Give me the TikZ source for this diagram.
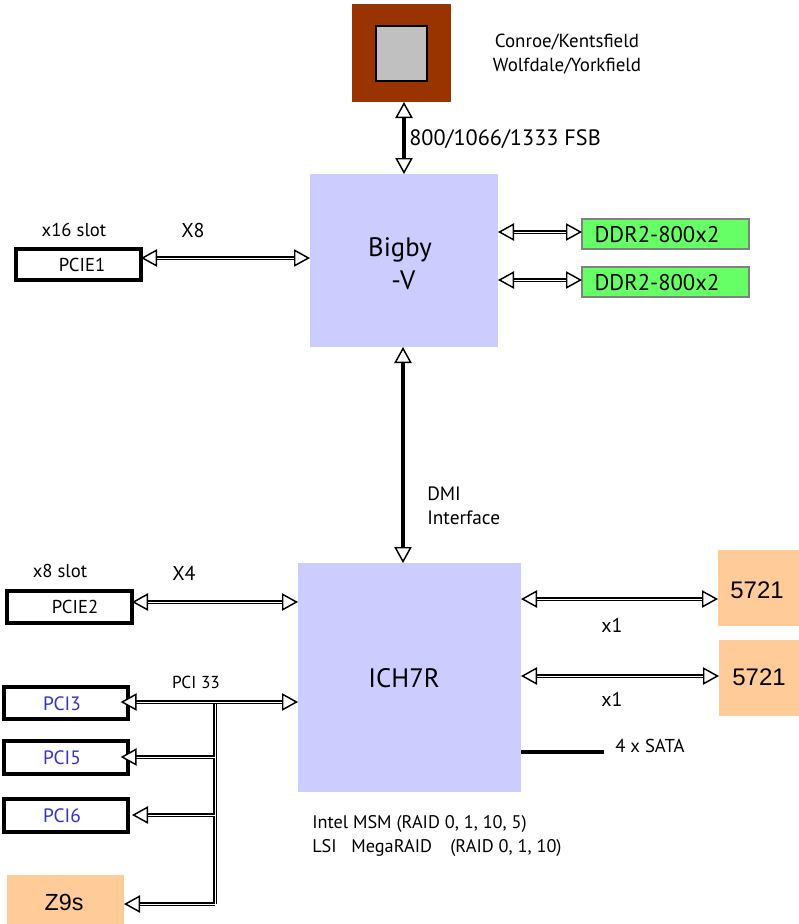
\documentclass[tikz,border=0pt]{standalone}
\usepackage{fontspec}
\setmainfont{PT Sans}
\newfontfamily\arialf{Liberation Sans}
\usetikzlibrary{arrows.meta,fit}
\definecolor{cpubrown}{RGB}{153,51,0}
\definecolor{chipgrey}{RGB}{192,192,192}
\definecolor{lav}{RGB}{204,204,255}
\definecolor{ddrgreen}{RGB}{102,255,102}
\definecolor{peach}{RGB}{255,204,153}
\definecolor{pciblue}{RGB}{51,51,204}
\newcommand{\fs}[2]{\fontsize{#1}{#2}\selectfont}
\tikzset{
  tip/.tip={Triangle[open,fill=white,length=12pt,width=13pt,line width=1.1pt]},
  bus/.style={double=white,double distance=0.6pt,line width=1.3pt,draw=black},
  biarrow/.style={bus,{tip}-{tip}},
  vbiarrow/.style={line width=3pt,draw=black,{tip}-{tip}},
  leftarrow/.style={bus,{tip}-},
  fitbox/.style={inner sep=0pt,outer sep=0pt},
  chip/.style={fitbox,fill=lav},
  slot/.style={fitbox,draw=black,line width=3pt,fill=white},
  ddr/.style={fitbox,draw=gray,line width=0.8pt,fill=ddrgreen},
  peachbox/.style={fitbox,fill=peach},
  lbl/.style={inner sep=0pt,text=black},
}
\begin{document}
\begin{tikzpicture}[x=0.75pt,y=-0.75pt]
\useasboundingbox (0,0) rectangle (799,924);
% CPU
\node[fitbox,fill=cpubrown,fit={(352,4)(451,102)}] (cpu) {};
\node[fitbox,fill=chipgrey,draw=black,line width=0.8pt,fit={(376,26)(427,81)}] (die) {};
\node[lbl,align=center,font=\fs{14.2pt}{18pt}] (cpulbl) at (567,54) {Conroe/Kentsfield\\Wolfdale/Yorkfield};
% Bigby
\node[chip,fit={(310,174)(498,347)}] (mch) {};
\node[lbl,font=\fs{20pt}{24.75pt},align=center] (mchlbl) at (400,264) {Bigby\\\hspace*{5pt}-V};
\draw[vbiarrow] (cpu.south -| 404,0) -- (mch.north -| 404,0);
\node[lbl,anchor=west,font=\fs{16.7pt}{20pt}] (fsblbl) at (409,139) {800/1066/1333 FSB};
% PCIE1
\node[slot,fit={(16,249)(141,280)}] (pcie1) {};
\node[lbl,font=\fs{14pt}{16pt}] (pcie1lbl) at (82,265) {PCIE1};
\node[lbl,font=\fs{14pt}{17pt}] (x16) at (74,230) {x16 slot};
\node[lbl,font=\fs{15pt}{18pt}] (x8) at (193,230) {X8};
\draw[biarrow] (pcie1.east |- 0,258) -- (mch.west |- 0,258);
% DDR
\node[ddr,fit={(582,219)(749,249)}] (ddr1) {};
\node[ddr,fit={(582,267)(749,297)}] (ddr2) {};
\node[lbl,font=\fs{17pt}{20pt}] (ddr1lbl) at (657,235) {DDR2-800x2};
\node[lbl,font=\fs{17pt}{20pt}] (ddr2lbl) at (657,283) {DDR2-800x2};
\draw[biarrow] (mch.east |- 0,232) -- (ddr1.west |- 0,232);
\draw[biarrow] (mch.east |- 0,280) -- (ddr2.west |- 0,280);
% ICH
\node[chip,fit={(298,563)(521,792)}] (ich) {};
\node[lbl,font=\fs{20pt}{23pt}] (ichlbl) at (404,678) {ICH7R};
\draw[vbiarrow] (mch.south -| 403,0) -- (ich.north -| 403,0);
\node[lbl,anchor=west,align=left,font=\fs{14.5pt}{18pt}] (dmi) at (427,506) {DMI\\Interface};
% PCIE2
\node[slot,fit={(7,591)(132,623)}] (pcie2) {};
\node[lbl,font=\fs{14pt}{16pt}] (pcie2lbl) at (75,607) {PCIE2};
\node[lbl,font=\fs{14pt}{17pt}] (x8s) at (60,571) {x8 slot};
\node[lbl,font=\fs{15pt}{18pt}] (x4) at (184,573) {X4};
\draw[biarrow] (pcie2.east |- 0,602) -- (ich.west |- 0,602);
% 5721
\node[peachbox,fit={(718,550)(799,626)}] (nic1) {};
\node[peachbox,fit={(719,640)(799,716)}] (nic2) {};
\node[lbl,font=\arialf\fs{18pt}{21pt}] (nic1lbl) at (757,590) {5721};
\node[lbl,font=\arialf\fs{18pt}{21pt}] (nic2lbl) at (759,677) {5721};
\draw[biarrow] (ich.east |- 0,599) -- (nic1.west |- 0,599);
\draw[biarrow] (ich.east |- 0,676) -- (nic2.west |- 0,676);
\node[lbl,font=\fs{15pt}{18pt}] (x1a) at (612,625) {x1};
\node[lbl,font=\fs{15pt}{18pt}] (x1b) at (612,699) {x1};
% SATA
\coordinate (sataend) at (604,752);
\draw[line width=3pt] (ich.east |- sataend) -- (sataend);
\node[lbl,anchor=west,font=\fs{14pt}{17pt}] (sata) at (615,746) {4 x SATA};
% RAID text
\node[lbl,anchor=west,align=left,font=\fs{13.7pt}{18pt}] (raid) at (312,836) {Intel MSM (RAID 0, 1, 10, 5)\\LSI\hspace{0.8em}MegaRAID\hspace{1em}(RAID 0, 1, 10)};
% PCI slots
\node[slot,fit={(4,687)(128,719)}] (pci3) {};
\node[slot,fit={(4,741)(128,774)}] (pci5) {};
\node[slot,fit={(4,799)(128,832)}] (pci6) {};
\node[lbl,font=\fs{14.5pt}{17pt},text=pciblue] (pci3lbl) at (62,704) {PCI3};
\node[lbl,font=\fs{14.5pt}{17pt},text=pciblue] (pci5lbl) at (62,758) {PCI5};
\node[lbl,font=\fs{14.5pt}{17pt},text=pciblue] (pci6lbl) at (62,816) {PCI6};
\node[peachbox,fit={(7,875)(124,924)}] (z9s) {};
\node[lbl,font=\arialf\fs{17.5pt}{21pt}] (z9slbl) at (64,902) {Z9s};
\node[lbl,font=\fs{13pt}{16pt}] (pci33) at (196,682) {PCI 33};
\coordinate (j1) at (215,702);
\coordinate (j2) at (215,757);
\coordinate (j3) at (215,815);
\coordinate (j4) at (215,904);
\draw[bus] (j1) -- (j4);
\draw[biarrow] ([xshift=-5.5]pci3.east |- j1) -- (ich.west |- j1);
\draw[leftarrow] ([xshift=-5.5]pci5.east |- j2) -- (j2);
\draw[leftarrow] ([xshift=3]pci6.east |- j3) -- (j3);
\draw[leftarrow] (z9s.east |- j4) -- (j4);
\end{tikzpicture}
\end{document}
